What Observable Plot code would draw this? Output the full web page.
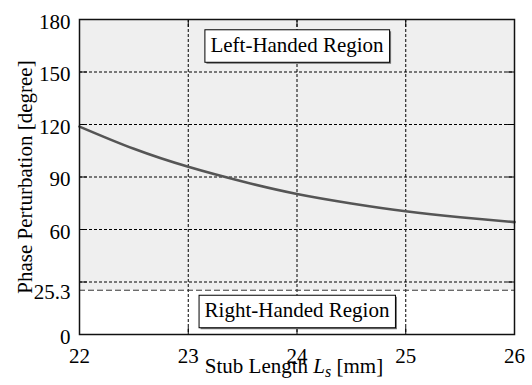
<!DOCTYPE html>
<html><head><meta charset="utf-8">
<script src="https://cdn.jsdelivr.net/npm/d3@7"></script>
<script src="https://cdn.jsdelivr.net/npm/@observablehq/plot@0.6"></script>
<style>
body{margin:0;background:#fff;}
#chart svg{display:block;}
</style></head><body><div id="chart"></div>
<script>
const stubLength = [22, 22.5, 23, 23.5, 24, 24.5, 25, 25.5, 26];
const phasePerturbation = [118.8, 106.1, 95.8, 87.4, 80.3, 74.9, 70.4, 67.0, 64.2];
const xTicks = [22, 23, 24, 25, 26];
const xGridTicks = [23, 24, 25];
const yLabelTicks = [0, 25.3, 60, 90, 120, 150, 180];
const yGridTicks = [30, 60, 90, 120, 150];
const boundary = 25.3;
const xDomain = [22, 26];
const yDomain = [0, 180];
const regionLabels = ["Left-Handed Region", "Right-Handed Region"];
const regionLabelX = [24, 24];
const regionLabelY = [165.4, 13.7];
const yTitle = "Phase Perturbation [degree]";
const xTitle = "Stub Length Ls [mm]";

const FONT = "Liberation Serif";
const data = stubLength.map((x, i) => ({x, y: phasePerturbation[i]}));
const tickShape = {draw(context, l) { context.moveTo(0, 0); context.lineTo(0, -l); }};
const inTick = (ticks, chan, frameAnchor, rotate) =>
  Plot.vector(ticks, {[chan]: d => d, frameAnchor, rotate, length: 7, anchor: "start", shape: tickShape, stroke: "#000", strokeWidth: 1});

const chart = Plot.plot({
  width: 532,
  height: 385,
  marginLeft: 79,
  marginRight: 18,
  marginTop: 19,
  marginBottom: 51,
  style: {background: "#fff", color: "#000"},
  x: {domain: xDomain, label: null},
  y: {domain: yDomain, label: null},
  marks: [
    Plot.rect([0], {x1: xDomain[0], x2: xDomain[1], y1: boundary, y2: yDomain[1], fill: "#efefef"}),
    Plot.gridY(yGridTicks, {stroke: "#000", strokeOpacity: 1, strokeDasharray: "3,2"}),
    Plot.gridX(xGridTicks, {stroke: "#000", strokeOpacity: 1, strokeDasharray: "3,2"}),
    Plot.ruleY([boundary], {stroke: "#333", strokeDasharray: "6,3"}),
    Plot.line(data, {x: "x", y: "y", curve: "natural", stroke: "#555", strokeWidth: 2.6}),
    inTick(yGridTicks, "y", "left", 90),
    inTick(yGridTicks, "y", "right", -90),
    inTick(xGridTicks, "x", "bottom", 0),
    inTick(xGridTicks, "x", "top", 180),
    Plot.axisY(yLabelTicks, {anchor: "left", tickSize: 0, tickPadding: 9, dy: 2.5, tickFormat: d => String(d), fontFamily: FONT, fontSize: 21}),
    Plot.axisX(xTicks, {anchor: "bottom", tickSize: 0, tickPadding: 14, tickFormat: d => String(d), fontFamily: FONT, fontSize: 21}),
    Plot.frame({stroke: "#111", strokeWidth: 1.5}),
    Plot.text(regionLabels, {x: regionLabelX, y: regionLabelY, text: d => d, fill: "#000", fontFamily: FONT, fontSize: 21}),
    Plot.text([yTitle], {frameAnchor: "left", textAnchor: "middle", dx: -54, rotate: -90, text: d => d, fill: "#000", fontFamily: FONT, fontSize: 21}),
    Plot.text([xTitle], {frameAnchor: "bottom", textAnchor: "middle", dy: 38, dx: -3, text: d => d, fill: "#000", fontFamily: FONT, fontSize: 21})
  ]
});
chart.setAttribute("font-family", FONT);
chart.setAttribute("font-size", "21");
document.getElementById("chart").appendChild(chart);

const NS = "http://www.w3.org/2000/svg";
chart.querySelectorAll("text").forEach(t => {
  t.setAttribute("font-family", FONT);
  t.style.fontFamily = FONT;
  const s = t.textContent;
  if (regionLabels.includes(s)) {
    const b = t.getBBox();
    const tr = t.getAttribute("transform");
    const padX = 5.5, padT = 3, padB = 5.5;
    const shadow = document.createElementNS(NS, "rect");
    const box = document.createElementNS(NS, "rect");
    [[shadow, 1.5, "#777", "none"], [box, 0, "#fff", "#000"]].forEach(([r, off, fill, stroke]) => {
      r.setAttribute("x", b.x - padX + off);
      r.setAttribute("y", b.y - padT + off);
      r.setAttribute("width", b.width + 2 * padX);
      r.setAttribute("height", b.height + padT + padB);
      r.setAttribute("fill", fill);
      r.setAttribute("stroke", stroke);
      r.setAttribute("stroke-width", 1);
      if (tr) r.setAttribute("transform", tr);
      t.parentNode.insertBefore(r, t);
    });
  } else if (s === xTitle) {
    while (t.firstChild) t.removeChild(t.firstChild);
    const parts = [
      ["Stub Length ", {}],
      ["L", {"font-style": "italic"}],
      ["s", {"font-style": "italic", "font-size": "16px", "dy": "4"}],
      [" [mm]", {"dy": "-4"}]
    ];
    parts.forEach(([txt, attrs]) => {
      const sp = document.createElementNS(NS, "tspan");
      sp.textContent = txt;
      for (const k in attrs) sp.setAttribute(k, attrs[k]);
      t.appendChild(sp);
    });
  }
});
</script></body></html>
